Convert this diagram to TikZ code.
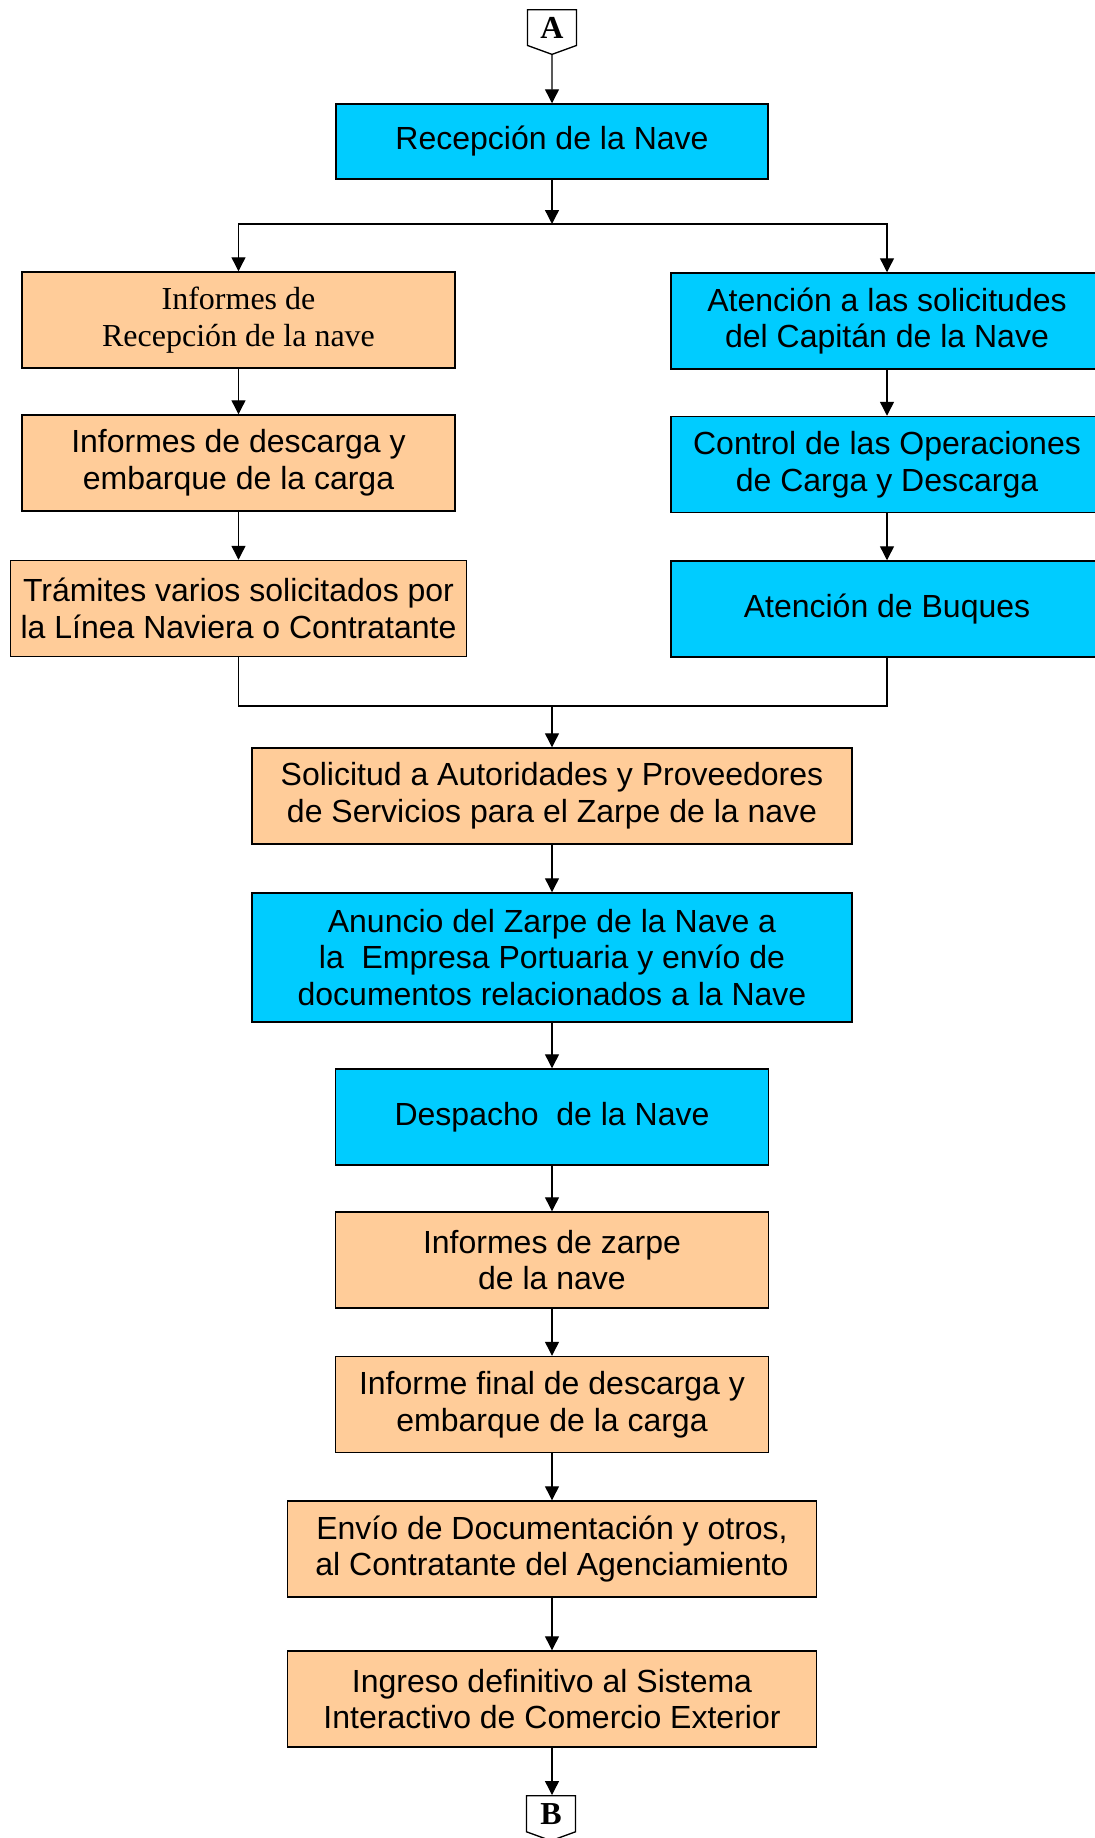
\documentclass[tikz,border=0pt]{standalone}
\usepackage{fontspec}
\setmainfont{Liberation Sans}
\newfontfamily\serifface{Liberation Serif}
\usetikzlibrary{arrows.meta,shapes.symbols}
\definecolor{NaveCyan}{RGB}{0,204,255}
\definecolor{NavePeach}{RGB}{255,204,153}

\begin{document}
\begin{tikzpicture}[x=0.75pt,y=-0.75pt,
  box/.style={draw=black,line width=1.1pt,inner sep=0pt,align=center,font=\fontsize{24}{27.6}\selectfont},
  cyanbox/.style={box,fill=NaveCyan},
  peachbox/.style={box,fill=NavePeach},
  pagelink/.style={draw=black,line width=1pt,signal,signal to=south,signal pointer angle=140,minimum width=36.75pt,minimum height=30pt,inner sep=0pt,anchor=north,font=\serifface\bfseries\fontsize{24}{26}\selectfont},
  arr/.style={-{Triangle[length=10.5pt,width=10.5pt]},line width=1pt}
]
\useasboundingbox (0,0) rectangle (1095,1838);

% off-page connectors
\node[pagelink] (A) at (552,9) {A};
\node[pagelink] (B) at (551,1795) {B};

% top
\node[cyanbox,minimum width=324pt,minimum height=56.25pt] (rec) at (552,141.5) {Recepci\'on de la Nave};

% left branch
\node[peachbox,minimum width=324.75pt,minimum height=72pt] (inf1) at (238.5,320) {\serifface Informes de\\\serifface Recepci\'on de la nave};
\node[peachbox,minimum width=324.75pt,minimum height=72pt] (inf2) at (238.5,463) {Informes de descarga y\\embarque de la carga};
\node[peachbox,minimum width=342pt,minimum height=72pt] (tram) at (238.5,608.5) {Tr\'amites varios solicitados por\\la L\'inea Naviera o Contratante};

% right branch
\node[cyanbox,minimum width=324pt,minimum height=72pt] (ate) at (887,321) {Atenci\'on a las solicitudes\\del Capit\'an de la Nave};
\node[cyanbox,minimum width=324pt,minimum height=72pt] (ctl) at (887,464.5) {Control de las Operaciones\\de Carga y Descarga};
\node[cyanbox,minimum width=324pt,minimum height=72pt] (buq) at (887,609) {Atenci\'on de Buques};

% main column
\node[peachbox,minimum width=450pt,minimum height=72pt] (sol) at (552,796) {Solicitud a Autoridades y Proveedores\\de Servicios para el Zarpe de la nave};
\node[cyanbox,minimum width=450pt,minimum height=96.75pt] (anu) at (552,957.5) {Anuncio del Zarpe de la Nave a\\la~ Empresa Portuaria y env\'io de\\documentos relacionados a la Nave};
\node[cyanbox,minimum width=324.75pt,minimum height=72pt] (des) at (552,1117) {Despacho~ de la Nave};
\node[peachbox,minimum width=324.75pt,minimum height=72pt] (izar) at (552,1260) {Informes de zarpe\\ de la nave};
\node[peachbox,minimum width=324.75pt,minimum height=72pt] (ifin) at (552,1404.5) {Informe final de descarga y\\embarque de la carga};
\node[peachbox,minimum width=396.75pt,minimum height=72pt] (env) at (552,1549) {Env\'io de Documentaci\'on y otros,\\al Contratante del Agenciamiento};
\node[peachbox,minimum width=396.75pt,minimum height=72pt] (ing) at (552,1699) {Ingreso definitivo al Sistema\\Interactivo de Comercio Exterior};

\coordinate (split) at (552,224);
\coordinate (join) at (552,706);

\draw[arr] (A) -- (rec);
\draw[arr] (rec) -- (split);
\draw[arr] (split) -| (inf1.north);
\draw[arr] (split) -| (ate.north);
\draw[arr] (inf1) -- (inf2);
\draw[arr] (inf2) -- (tram);
\draw[arr] (ate) -- (ctl);
\draw[arr] (ctl) -- (buq);
\draw[line width=1pt] (tram.south) |- (join);
\draw[line width=1pt] (buq.south) |- (join);
\draw[arr] (join) -- (sol);
\draw[arr] (sol) -- (anu);
\draw[arr] (anu) -- (des);
\draw[arr] (des) -- (izar);
\draw[arr] (izar) -- (ifin);
\draw[arr] (ifin) -- (env);
\draw[arr] (env) -- (ing);
\draw[arr] (ing.south) -- (ing.south |- B.north);
\end{tikzpicture}
\end{document}
